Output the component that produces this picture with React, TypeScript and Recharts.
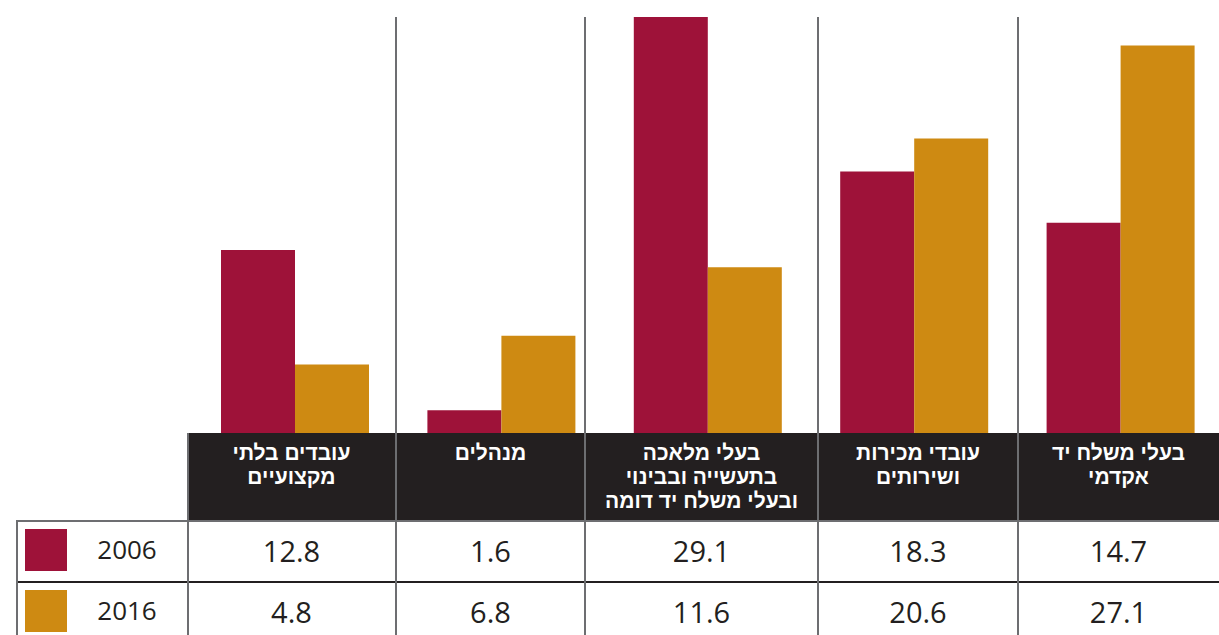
import React from 'react';
import { BarChart, Bar, XAxis, YAxis } from 'recharts';

// categories, left to right as printed
const categories = [
  'עובדים בלתי\nמקצועיים',
  'מנהלים',
  'בעלי מלאכה\nבתעשייה ובבינוי\nובעלי משלח יד דומה',
  'עובדי מכירות\nושירותים',
  'בעלי משלח יד\nאקדמי',
];
const values2006 = [12.8, 1.6, 29.1, 18.3, 14.7];
const values2016 = [4.8, 6.8, 11.6, 20.6, 27.1];
const seriesNames = ['2006', '2016'];
const seriesColors = ['#9e1239', '#ce8a12'];

// table column edges (px)
const colEdges = [187, 396, 585, 818, 1018, 1219];
const LINE = '#6d6e71';
const DARK = '#231f20';
const FONT = '"Open Sans", "DejaVu Sans", sans-serif';
const HEAD_FONT = '"Liberation Sans", "Open Sans", sans-serif';

const chartData = categories.map((name, i) => ({
  name,
  v2006: values2006[i],
  v2016: values2016[i],
}));

const rows = [values2006, values2016];

const App: React.FC = () => {
  return (
    <div
      style={{
        position: 'absolute',
        left: 0,
        top: 0,
        width: 1219,
        height: 635,
        overflow: 'hidden',
        background: '#fff',
        fontFamily: FONT,
      }}
    >
      <div style={{ position: 'absolute', left: 0, top: 0 }}>
        <BarChart
          width={1224}
          height={434}
          data={chartData}
          margin={{ top: 17, right: 0, bottom: 1, left: 192 }}
          barGap={0}
          barSize={74}
        >
          <XAxis dataKey="name" hide />
          <YAxis hide domain={[0, 29.1]} />
          <Bar dataKey="v2006" fill={seriesColors[0]} isAnimationActive={false} />
          <Bar dataKey="v2016" fill={seriesColors[1]} isAnimationActive={false} />
        </BarChart>
      </div>

      {/* header band */}
      <div
        style={{
          position: 'absolute',
          left: colEdges[0] + 1,
          top: 433,
          width: 1219 - colEdges[0],
          height: 88,
          background: DARK,
        }}
      />
      {categories.map((c, i) => (
        <div
          key={c}
          dir="rtl"
          style={{
            position: 'absolute',
            left: colEdges[i],
            top: 441,
            width: colEdges[i + 1] - colEdges[i],
            textAlign: 'center',
            color: '#fff',
            fontFamily: HEAD_FONT,
            fontWeight: 700,
            fontSize: 21,
            lineHeight: '24px',
          }}
        >
          {c.split('\n').map((l) => (
            <div key={l}>{l}</div>
          ))}
        </div>
      ))}

      {/* data rows */}
      {rows.map((vals, r) => (
        <React.Fragment key={r}>
          <div
            style={{
              position: 'absolute',
              left: 25,
              top: 529 + r * 61,
              width: 42,
              height: 42,
              background: seriesColors[r],
            }}
          />
          <div
            style={{
              position: 'absolute',
              left: 92,
              top: 531 + r * 61,
              width: 70,
              fontSize: 26,
              lineHeight: '36px',
              color: DARK,
              textAlign: 'center',
            }}
          >
            {seriesNames[r]}
          </div>
          {vals.map((v, i) => (
            <div
              key={i}
              style={{
                position: 'absolute',
                left: colEdges[i],
                top: 530 + r * 61,
                width: colEdges[i + 1] - colEdges[i],
                textAlign: 'center',
                fontSize: 29,
                lineHeight: '42px',
                color: DARK,
              }}
            >
              {v.toFixed(1)}
            </div>
          ))}
        </React.Fragment>
      ))}

      {/* table rules */}
      <div style={{ position: 'absolute', left: 17, top: 520, width: 1202, height: 2, background: LINE }} />
      <div style={{ position: 'absolute', left: 17, top: 581, width: 1202, height: 2, background: DARK }} />
      <div style={{ position: 'absolute', left: 16, top: 520, width: 2, height: 115, background: LINE }} />
      <div style={{ position: 'absolute', left: colEdges[0], top: 433, width: 2, height: 202, background: LINE }} />
      {colEdges.slice(1, -1).map((x) => (
        <div
          key={x}
          style={{ position: 'absolute', left: x - 1, top: 17, width: 2, height: 618, background: LINE }}
        />
      ))}
    </div>
  );
};

export default App;
